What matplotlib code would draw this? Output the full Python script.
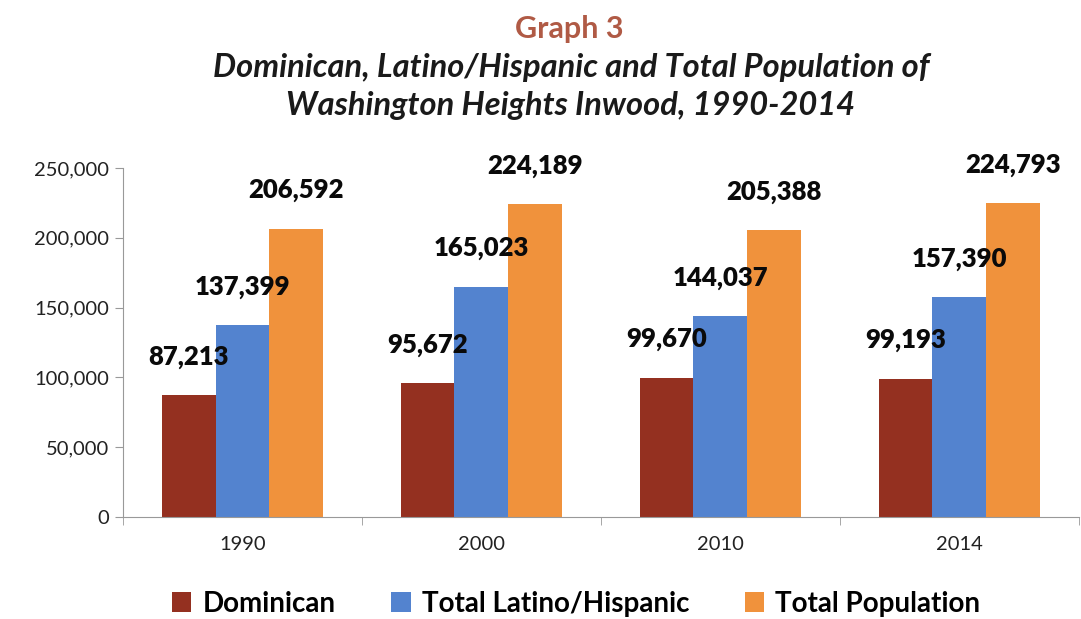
import matplotlib.pyplot as plt
import numpy as np

years = ["1990", "2000", "2010", "2014"]
dominican = [87213, 95672, 99670, 99193]
latino = [137399, 165023, 144037, 157390]
total = [206592, 224189, 205388, 224793]
series_names = ["Dominican", "Total Latino/Hispanic", "Total Population"]
colors = ["#943020", "#5383cf", "#f0923c"]

plt.rcParams['font.family'] = ['Lato', 'DejaVu Sans']

fig = plt.figure(figsize=(10.81, 6.19), dpi=100)
ax = fig.add_axes([0.1138, 0.1648, 0.884, 0.5638])

x = np.arange(len(years))
w = 0.225
for i, (vals, name, c) in enumerate(zip([dominican, latino, total], series_names, colors)):
    pos = x + (i - 1) * w
    ax.bar(pos, vals, w, color=c, label=name)
    for p, v in zip(pos, vals):
        ax.annotate(f"{v:,}", (p, v), xytext=(0, 19), textcoords="offset points",
                    ha="center", va="bottom", fontsize=18.5, fontweight="heavy",
                    color="#0a0a0a")

ax.set_xlim(-0.5, len(years) - 0.5)
ax.set_ylim(0, 250000)
ax.set_yticks(np.arange(0, 250001, 50000))
ax.set_yticklabels([f"{v:,}" for v in range(0, 250001, 50000)])
ax.set_xticks(x)
ax.set_xticklabels(years)
ax.set_xticks(np.arange(-0.5, len(years), 1), minor=True)
ax.tick_params(axis="x", which="major", length=0, pad=14, labelsize=14.5, labelcolor="#222222")
ax.tick_params(axis="x", which="minor", length=6, color="#999999", direction="out")
ax.tick_params(axis="y", length=6, color="#999999", labelsize=14.5, labelcolor="#222222", pad=4)
for s in ["top", "right"]:
    ax.spines[s].set_visible(False)
for s in ["left", "bottom"]:
    ax.spines[s].set_color("#999999")

fig.text(0.527, 0.953, "Graph 3", ha="center", va="center", fontsize=22,
         fontweight="bold", color="#b05a45")
fig.text(0.528, 0.860, "Dominican, Latino/Hispanic and Total Population of\nWashington Heights Inwood, 1990-2014",
         ha="center", va="center", fontsize=23.5, fontweight="bold", style="italic",
         color="#1a1a1a", linespacing=1.35)

leg = fig.legend(loc="center", bbox_to_anchor=(0.533, 0.025), ncol=3, frameon=False,
                 prop={"size": 20, "weight": "bold"}, handlelength=0.7, handleheight=0.7,
                 handletextpad=0.4, columnspacing=2.0)

fig.savefig("out.png", dpi=100)
